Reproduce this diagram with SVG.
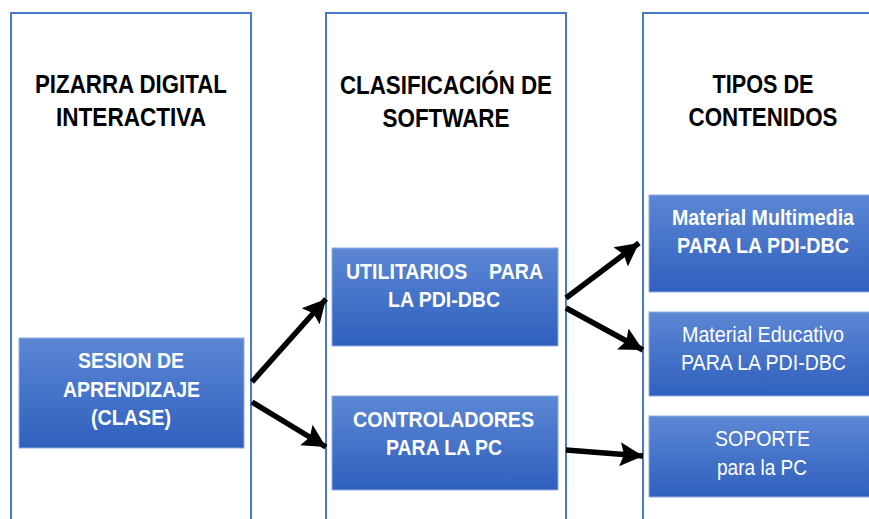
<svg xmlns="http://www.w3.org/2000/svg" width="869" height="519" viewBox="0 0 869 519">
<defs>
<style>
.col{fill:#fff;stroke:#4a78cf;stroke-width:2}
.box{fill:url(#g);stroke:#8fabe0;stroke-width:1}
.title{font-family:"Liberation Sans",Arial,sans-serif;font-weight:bold;font-size:26px;fill:#000;text-anchor:middle}
.bt{font-family:"Liberation Sans",Arial,sans-serif;font-size:22px;fill:#fff;text-anchor:middle}
.b{font-weight:bold}
.arr{stroke:#000;stroke-width:5.5;fill:none;marker-end:url(#ah)}
</style>
<linearGradient id="g" x1="0" y1="0" x2="0" y2="1">
<stop offset="0" stop-color="#5b87d4"/>
<stop offset="1" stop-color="#3060be"/>
</linearGradient>
<marker id="ah" markerUnits="userSpaceOnUse" markerWidth="26" markerHeight="26" refX="23" refY="13" orient="auto">
<path d="M0,1 L23,13 L0,25 L4,13 Z" fill="#000"/>
</marker>
</defs>
<rect width="869" height="519" fill="#fff"/>
<g id="col1">
<rect class="col" x="11" y="13" width="240" height="520"/>
<text class="title" x="131" y="93" textLength="192" lengthAdjust="spacingAndGlyphs">PIZARRA DIGITAL</text>
<text class="title" x="131" y="126" textLength="150" lengthAdjust="spacingAndGlyphs">INTERACTIVA</text>
</g>
<g id="col2">
<rect class="col" x="326" y="13" width="240" height="520"/>
<text class="title" x="446" y="94" textLength="212" lengthAdjust="spacingAndGlyphs">CLASIFICACIÓN DE</text>
<text class="title" x="446" y="127" textLength="127" lengthAdjust="spacingAndGlyphs">SOFTWARE</text>
</g>
<g id="col3">
<rect class="col" x="643" y="13" width="240" height="520"/>
<text class="title" x="763" y="93" textLength="101" lengthAdjust="spacingAndGlyphs">TIPOS DE</text>
<text class="title" x="763" y="126" textLength="149" lengthAdjust="spacingAndGlyphs">CONTENIDOS</text>
</g>
<g id="sesion">
<rect class="box" x="19" y="338" width="225" height="110"/>
<text class="bt b" x="131" y="368" textLength="106" lengthAdjust="spacingAndGlyphs">SESION DE</text>
<text class="bt b" x="131.5" y="397" textLength="137" lengthAdjust="spacingAndGlyphs">APRENDIZAJE</text>
<text class="bt b" x="131" y="425" textLength="80" lengthAdjust="spacingAndGlyphs">(CLASE)</text>
</g>
<g id="utilitarios">
<rect class="box" x="332" y="248" width="226" height="98"/>
<text class="bt b" x="444.5" y="279" textLength="197" lengthAdjust="spacingAndGlyphs" xml:space="preserve">UTILITARIOS    PARA</text>
<text class="bt b" x="444" y="307" textLength="112" lengthAdjust="spacingAndGlyphs">LA PDI-DBC</text>
</g>
<g id="controladores">
<rect class="box" x="332" y="396" width="226" height="94"/>
<text class="bt b" x="443.5" y="427" textLength="181" lengthAdjust="spacingAndGlyphs">CONTROLADORES</text>
<text class="bt b" x="444" y="455" textLength="116" lengthAdjust="spacingAndGlyphs">PARA LA PC</text>
</g>
<g id="multimedia">
<rect class="box" x="649" y="195" width="228" height="97"/>
<text class="bt b" x="763" y="225" textLength="182" lengthAdjust="spacingAndGlyphs">Material Multimedia</text>
<text class="bt b" x="763" y="253" textLength="172" lengthAdjust="spacingAndGlyphs">PARA LA PDI-DBC</text>
</g>
<g id="educativo">
<rect class="box" x="649" y="312" width="228" height="84"/>
<text class="bt" x="763" y="342" textLength="162" lengthAdjust="spacingAndGlyphs">Material Educativo</text>
<text class="bt" x="763.5" y="370" textLength="165" lengthAdjust="spacingAndGlyphs">PARA LA PDI-DBC</text>
</g>
<g id="soporte">
<rect class="box" x="649" y="416" width="228" height="81"/>
<text class="bt" x="762.5" y="446" textLength="95" lengthAdjust="spacingAndGlyphs">SOPORTE</text>
<text class="bt" x="762" y="475" textLength="90" lengthAdjust="spacingAndGlyphs">para la PC</text>
</g>
<g id="connectors">
<line class="arr" x1="252" y1="382" x2="326" y2="299"/>
<line class="arr" x1="252" y1="402" x2="326" y2="447"/>
<line class="arr" x1="566" y1="298" x2="639" y2="243"/>
<line class="arr" x1="566" y1="308" x2="643" y2="350"/>
<line class="arr" x1="566" y1="450" x2="643" y2="456"/>
</g>
</svg>
